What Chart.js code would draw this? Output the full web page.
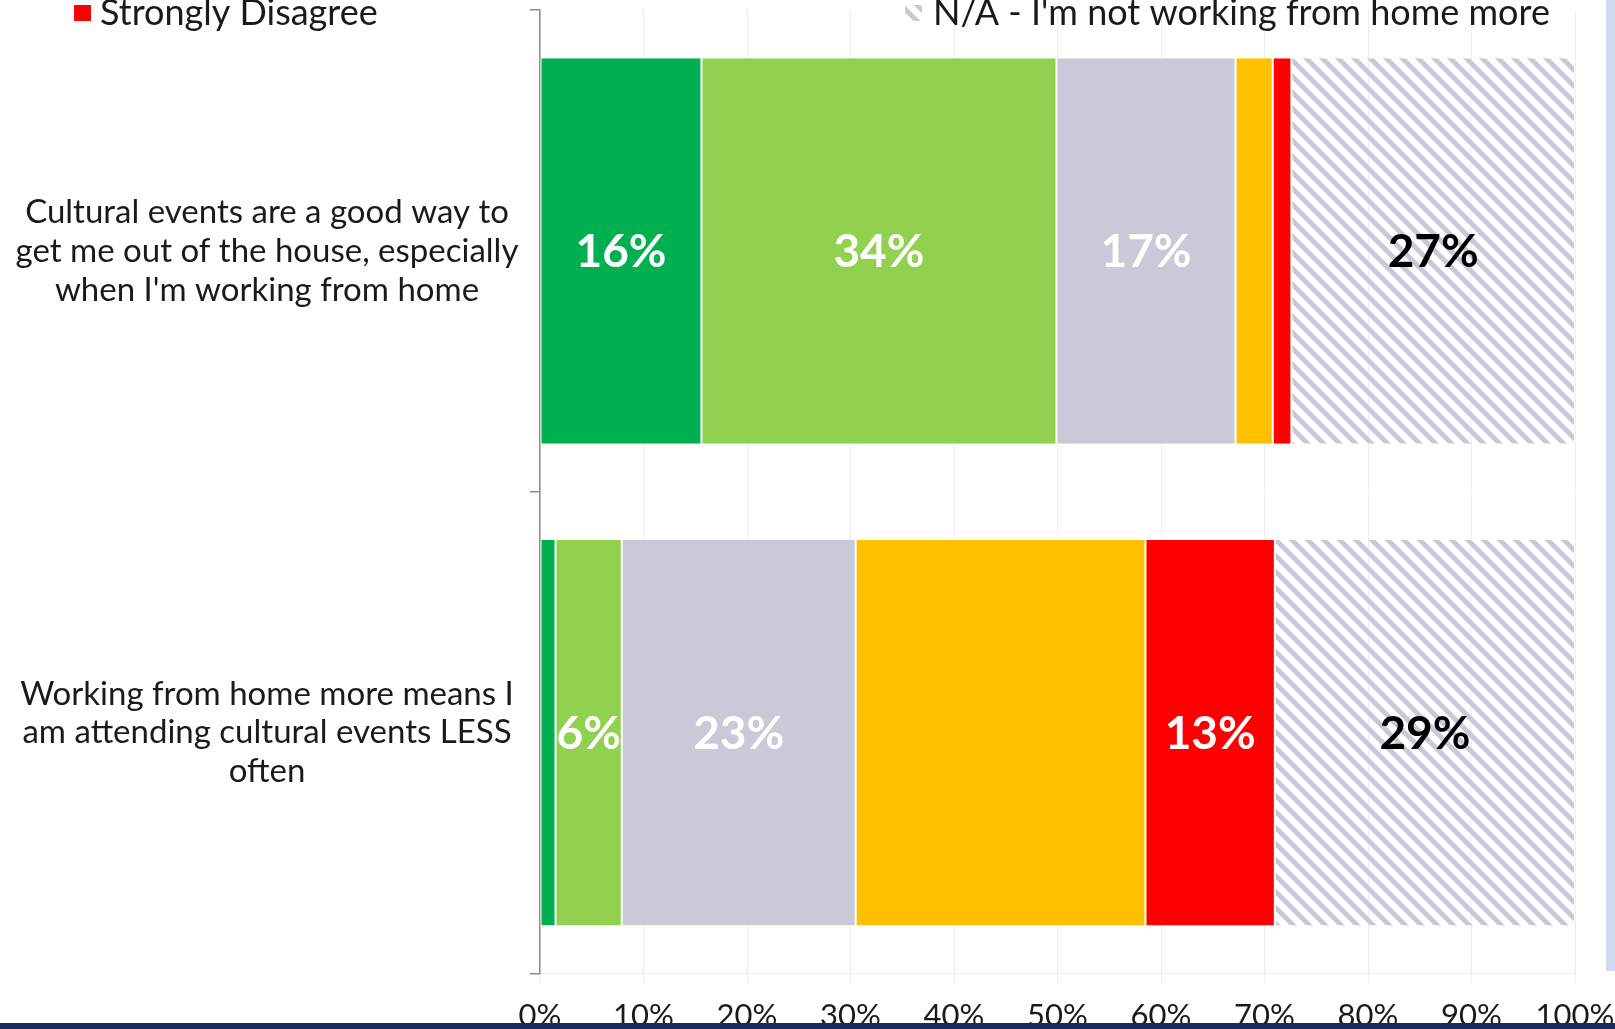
<!DOCTYPE html>
<html>
<head>
<meta charset="utf-8">
<script src="https://cdn.jsdelivr.net/npm/chart.js@4.4.1/dist/chart.umd.min.js"></script>
<style>
  html, body { margin: 0; padding: 0; background: #fff; overflow: hidden; }
  #wrap { position: relative; width: 1615px; height: 1029px; overflow: hidden; }
  #chartBox { position: absolute; left: 0; top: 0; width: 1615px; height: 1049px; }
  #sideBar { position: absolute; left: 1606px; top: 0; width: 9px; height: 971px; background: #d3dbf1; }
  #footBar { position: absolute; left: 0; top: 1023px; width: 1615px; height: 6px; background: #1b2a5c; }
</style>
</head>
<body>
<div id="wrap">
  <div id="chartBox"><canvas id="chart"></canvas></div>
  <div id="sideBar"></div>
  <div id="footBar"></div>
</div>
<script>
// --- DATA ---
const categories = [
  ['Cultural events are a good way to', 'get me out of the house, especially', "when I'm working from home"],
  ['Working from home more means I', 'am attending cultural events LESS', 'often']
];
const seriesNames = ['Strongly Agree', 'Agree', 'Neutral', 'Disagree', 'Strongly Disagree', "N/A - I'm not working from home more"];
const stronglyAgree = [15.6, 1.5];
const agree = [34.3, 6.4];
const neutral = [17.3, 22.6];
const disagree = [3.6, 28.0];
const stronglyDisagree = [1.8, 12.5];
const notApplicable = [27.4, 29.0];
const xTicks = [0, 10, 20, 30, 40, 50, 60, 70, 80, 90, 100];

// --- STYLE ---
const seriesColors = ['#00b050', '#92d050', '#c9c9d7', '#ffc000', '#ff0000', null];
const labelColors = ['#ffffff', '#ffffff', '#ffffff', null, '#ffffff', '#000000'];
const stripeColor = '#c8c8d8';
const fontFamily = 'Lato, "Open Sans", sans-serif';

// diagonal stripe pattern for the N/A series
function makeStripes() {
  const c = document.createElement('canvas');
  c.width = 16; c.height = 16;
  const g = c.getContext('2d');
  g.strokeStyle = stripeColor;
  g.lineWidth = 5;
  [-16, 0, 16].forEach(off => {
    g.beginPath();
    g.moveTo(-4, -4 + off);
    g.lineTo(20, 20 + off);
    g.stroke();
  });
  return c;
}
const stripeTile = makeStripes();
const stripePattern = document.getElementById('chart').getContext('2d').createPattern(stripeTile, 'repeat');

const allValues = [stronglyAgree, agree, neutral, disagree, stronglyDisagree, notApplicable];

// work out label padding so the label block is centred where the original sits
const catFontSize = 33;
const measureCtx = document.createElement('canvas').getContext('2d');
measureCtx.font = catFontSize + 'px ' + fontFamily;
let widest = 0;
categories.forEach(lines => lines.forEach(l => { widest = Math.max(widest, measureCtx.measureText(l).width); }));
const axisRight = 540;
const labelCenter = 267;
const yPadding = Math.max(2, axisRight - 10 - labelCenter - widest / 2);

// --- PLUGINS ---
const barLabels = {
  id: 'barLabels',
  afterDatasetsDraw(chart) {
    const ctx = chart.ctx;
    ctx.save();
    ctx.font = 'bold 46px ' + fontFamily;
    ctx.textAlign = 'center';
    ctx.textBaseline = 'middle';
    chart.data.datasets.forEach((ds, i) => {
      if (!labelColors[i]) return;
      const meta = chart.getDatasetMeta(i);
      meta.data.forEach((bar, j) => {
        const v = ds.data[j];
        if (v < 5) return;
        ctx.fillStyle = labelColors[i];
        ctx.fillText(Math.round(v) + '%', (bar.x + bar.base) / 2, bar.y + 1);
      });
    });
    ctx.restore();
  }
};

// only the last legend row is still in the frame
const legendRow = {
  id: 'legendRow',
  afterDraw(chart) {
    const ctx = chart.ctx;
    ctx.save();
    ctx.font = '36px ' + fontFamily;
    ctx.textBaseline = 'alphabetic';
    // Strongly Disagree
    ctx.fillStyle = seriesColors[4];
    ctx.fillRect(74, 5, 17, 16);
    ctx.fillStyle = '#1a1a1a';
    ctx.fillText(seriesNames[4], 100, 25);
    // N/A
    ctx.fillStyle = stripePattern;
    ctx.fillRect(905, 5, 17, 16);
    ctx.fillStyle = '#1a1a1a';
    ctx.fillText(seriesNames[5], 933, 25);
    ctx.restore();
  }
};

const datasets = allValues.map((vals, i) => ({
  label: seriesNames[i],
  data: vals,
  backgroundColor: seriesColors[i] || stripePattern,
  borderColor: '#ffffff',
  borderWidth: { left: 1, right: 1, top: 0, bottom: 0 },
  borderSkipped: false,
  categoryPercentage: 0.8,
  barPercentage: 1.0
}));

new Chart(document.getElementById('chart'), {
  type: 'bar',
  data: { labels: categories, datasets: datasets },
  options: {
    indexAxis: 'y',
    responsive: true,
    maintainAspectRatio: false,
    animation: false,
    layout: { padding: { top: 10, right: 40, bottom: 0, left: 0 } },
    plugins: {
      legend: { display: false },
      tooltip: { enabled: false }
    },
    scales: {
      x: {
        stacked: true,
        min: 0,
        max: 100,
        afterBuildTicks: scale => { scale.ticks = xTicks.map(v => ({ value: v })); },
        afterFit: scale => { scale.paddingLeft = 0; scale.paddingRight = 0; },
        ticks: {
          padding: 14,
          color: '#1a1a1a',
          font: { family: fontFamily, size: 31 },
          callback: v => v + '%'
        },
        grid: { color: '#eeeeee', lineWidth: 1, tickLength: 10 },
        border: { color: '#eeeeee', width: 1 }
      },
      y: {
        stacked: true,
        afterFit: scale => { scale.width = axisRight; scale.paddingTop = 0; scale.paddingBottom = 0; },
        ticks: {
          crossAlign: 'center',
          padding: yPadding,
          color: '#1a1a1a',
          font: { family: fontFamily, size: catFontSize, lineHeight: 1.18 }
        },
        grid: { drawOnChartArea: false, tickLength: 10, color: '#8c8c8c', lineWidth: 1.5 },
        border: { color: '#8c8c8c', width: 1.5 }
      }
    }
  },
  plugins: [barLabels, legendRow]
});
</script>
</body>
</html>
